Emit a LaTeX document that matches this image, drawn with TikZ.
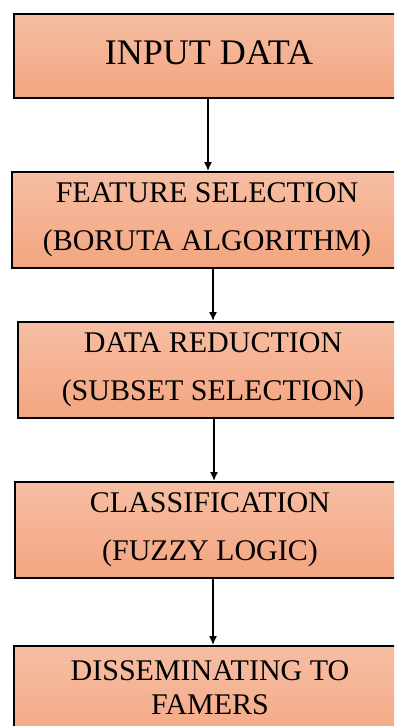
\documentclass[tikz,border=0pt]{standalone}
\usepackage{fontspec}
\setmainfont{Liberation Serif}
\usetikzlibrary{arrows.meta}
\definecolor{boxtop}{RGB}{246,190,163}
\definecolor{boxbot}{RGB}{244,165,128}
\tikzset{
  stage/.style={draw=black, line width=2pt, top color=boxtop, bottom color=boxbot,
    inner sep=0pt, align=center, font=\fontsize{30}{48}\selectfont},
  flow/.style={line width=1.5pt, -{Latex[length=9pt,width=8pt]}}
}
\begin{document}
\begin{tikzpicture}[x=1pt,y=-1pt]
\useasboundingbox (0,0) rectangle (394,726);
\fill[white] (0,0) rectangle (394,726);
\clip (0,0) rectangle (394,726);
% processing stages, top to bottom
\node[stage, minimum width=390, minimum height=84, font=\fontsize{36}{40}\selectfont]
  (input) at (209,56) {\raisebox{7pt}{INPUT DATA}};
\node[stage, minimum width=390, minimum height=96]
  (feature) at (207,220) {FEATURE SELECTION\\(BORUTA ALGORITHM)};
\node[stage, minimum width=390, minimum height=96]
  (reduce) at (213,370) {DATA REDUCTION\\(SUBSET SELECTION)};
\node[stage, minimum width=390, minimum height=96]
  (classify) at (210,530) {CLASSIFICATION\\(FUZZY LOGIC)};
\node[stage, minimum width=392, minimum height=110, font=\fontsize{30}{34}\selectfont]
  (dissem) at (210,701) {\raisebox{4pt}[0pt][0pt]{\begin{tabular}{@{}c@{}}DISSEMINATING TO\\FAMERS\end{tabular}}};
% connectors
\draw[flow] (input.south -| 208,0) -- (feature.north -| 208,0);
\draw[flow] (feature.south -| 213,0) -- (reduce.north -| 213,0);
\draw[flow] (reduce.south -| 214,0) -- (classify.north -| 214,0);
\draw[flow] (classify.south -| 213,0) -- (dissem.north -| 213,0);
\end{tikzpicture}
\end{document}
